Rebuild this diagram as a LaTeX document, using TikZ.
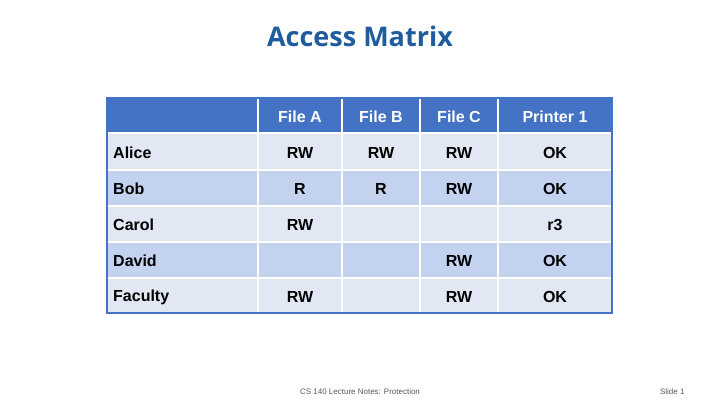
\documentclass[tikz,border=0pt]{standalone}
\usepackage{fontspec}
\setmainfont{Liberation Sans}
\newfontfamily\titlefont{Open Sans}
\definecolor{hdr}{HTML}{4472C4}
\definecolor{rowA}{HTML}{E1E7F3}
\definecolor{rowB}{HTML}{C3D2EE}
\definecolor{ttl}{HTML}{1F5C9E}
\tikzset{cell/.style={inner sep=0pt,font=\fontsize{16}{18}\selectfont\bfseries},
 hcell/.style={cell,text=white}}
\begin{document}
\begin{tikzpicture}[x=1pt,y=-1pt]
\useasboundingbox[fill=white] (0,0) rectangle (720,405);
\node[font=\titlefont\fontsize{27}{30}\selectfont\bfseries,text=ttl] (title) at (360,36) {Access Matrix};
% backgrounds
\fill[hdr] (107,98) rectangle (612,133);
\foreach \y/\c in {133/rowA,170/rowB,206/rowA,242/rowB,278/rowA}{
  \pgfmathsetmacro{\yb}{\y==133?170:(\y==170?206:(\y==206?242:(\y==242?278:313)))}
  \fill[\c] (107,\y) rectangle (612,\yb);}
% separators
\foreach \x in {258,342,420,498}{\draw[white,line width=1.5pt] (\x,98) -- (\x,313);}
\foreach \y in {133,170,206,242,278}{\draw[white,line width=1.5pt] (107,\y) -- (612,\y);}
\draw[hdr,line width=1.5pt] (107,98) rectangle (612,313);
% header
\foreach \x/\t/\n in {300/File A/ha,381/File B/hb,459/File C/hc,555/Printer 1/hp}{
  \node[hcell] (\n) at (\x,117) {\t};}
% rows
\foreach \y/\name/\a/\b/\c/\p/\n in {153/Alice/RW/RW/RW/OK/r1,189/Bob/R/R/RW/OK/r2,225/Carol/RW///r3,261/David///RW/OK/r4,297/Faculty/RW//RW/OK/r5}{
  \node[cell,anchor=west] (\n) at (113,\y) {\name};
  \node[cell] (\n a) at (300,\y) {\a};
  \node[cell] (\n b) at (381,\y) {\b};
  \node[cell] (\n c) at (459,\y) {\c};
  \node[cell] (\n p) at (555,\y) {\p};}
\node[font=\fontsize{8}{9}\selectfont,text=black!65] (foot) at (360,392) {CS 140 Lecture Notes: Protection};
\node[font=\fontsize{8}{9}\selectfont,text=black!65,anchor=east] (slide) at (688,392) {Slide 1};
\end{tikzpicture}
\end{document}
